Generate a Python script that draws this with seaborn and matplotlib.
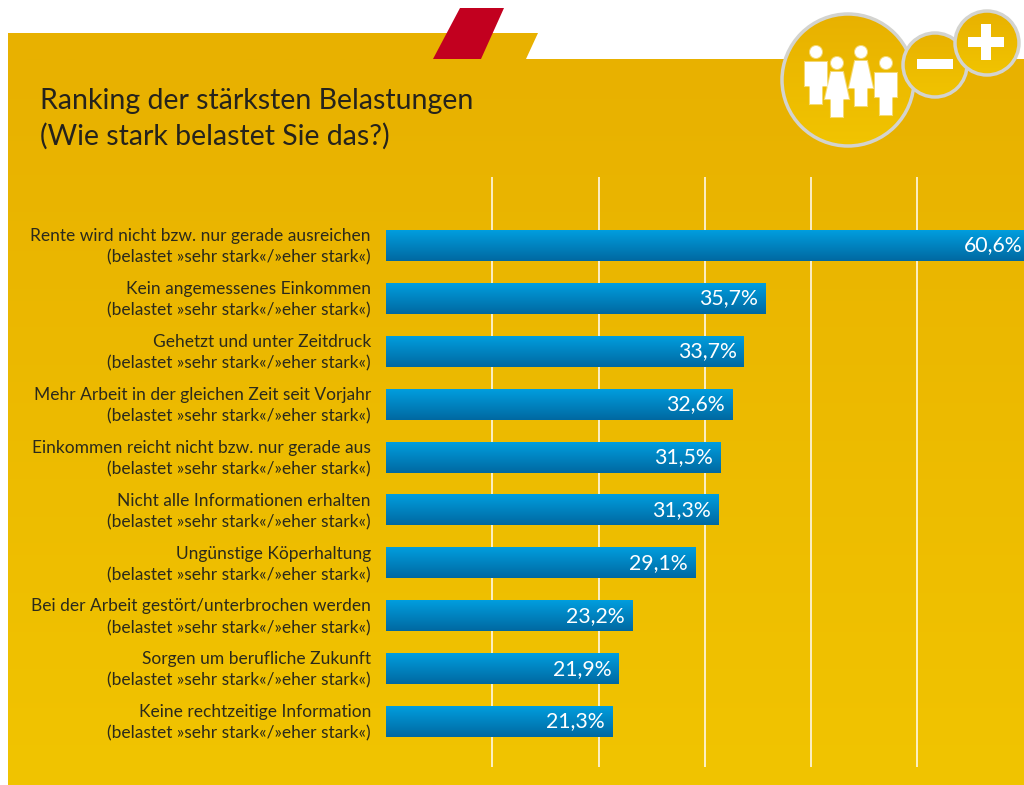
#!/usr/bin/env python3
# -*- coding: utf-8 -*-
import numpy as np
import pandas as pd
import matplotlib
matplotlib.use('Agg')
import matplotlib.pyplot as plt
from matplotlib.colors import LinearSegmentedColormap
from matplotlib.patches import Circle, Polygon, Rectangle
from matplotlib.transforms import ScaledTranslation
import seaborn as sns

titel = 'Ranking der stärksten Belastungen\n(Wie stark belastet Sie das?)'
zusatz = '(belastet »sehr stark«/»eher stark«)'
kategorien = [
    'Rente wird nicht bzw. nur gerade ausreichen',
    'Kein angemessenes Einkommen',
    'Gehetzt und unter Zeitdruck',
    'Mehr Arbeit in der gleichen Zeit seit Vorjahr',
    'Einkommen reicht nicht bzw. nur gerade aus',
    'Nicht alle Informationen erhalten',
    'Ungünstige Köperhaltung',
    'Bei der Arbeit gestört/unterbrochen werden',
    'Sorgen um berufliche Zukunft',
    'Keine rechtzeitige Information',
]
werte = [60.6, 35.7, 33.7, 32.6, 31.5, 31.3, 29.1, 23.2, 21.9, 21.3]
gitter = [10, 20, 30, 40, 50]

sns.set_theme(style='white')
plt.rcParams['font.family'] = ['Lato', 'DejaVu Sans']

W, H = 1024, 785
gold = LinearSegmentedColormap.from_list('gold', ['#e8b100', '#f1c400'])
blau = LinearSegmentedColormap.from_list('blau', ['#009ede', '#0068a1'])
verlauf = np.linspace(0, 1, 256).reshape(-1, 1)

fig = plt.figure(figsize=(W / 100, H / 100), dpi=100, facecolor='white')

# Hintergrund in Pixelkoordinaten
bg = fig.add_axes([0, 0, 1, 1])
bg.set_xlim(0, W)
bg.set_ylim(H, 0)
bg.axis('off')
bg.add_patch(Polygon([(8, 33), (538, 33), (526, 59), (8, 59)], fc='#e8b100', ec='none'))
bg.imshow(verlauf, cmap=gold, extent=(8, W, H, 59), aspect='auto', zorder=1)
bg.add_patch(Polygon([(460, 8), (504, 8), (481, 59), (433, 59)], fc='#c2001f', ec='none', zorder=2))
bg.text(40, 119, titel, fontsize=20.5, color='#25231c', va='center', ha='left',
        linespacing=1.42, zorder=5)


def kreis(x, y, r, z):
    im = bg.imshow(verlauf, cmap=gold, extent=(x - r, x + r, y + r, y - r), aspect='auto', zorder=z)
    c = Circle((x, y), r, fc='none', ec='#d3d3cf', lw=2.5, zorder=z + 0.1)
    bg.add_patch(c)
    im.set_clip_path(c)


kreis(848, 80, 66, 3)
kreis(935, 65, 32, 4)
kreis(987, 43, 32, 5)
bg.set_xlim(0, W)
bg.set_ylim(H, 0)

weiss = dict(fc='white', ec='none', zorder=6)
weich = dict(fc='white', ec=(1, 1, 1, 0.45), lw=1.5, zorder=6)
bg.add_patch(Rectangle((917, 59), 36, 10, **weiss))
bg.add_patch(Rectangle((968, 37), 36, 10, **weiss))
bg.add_patch(Rectangle((981, 24), 10, 36, **weiss))
# vier Figuren im Icon
for kx, ky in [(816, 52), (886, 63)]:
    bg.add_patch(Circle((kx, ky), 6, **weich))
    bg.add_patch(Rectangle((kx - 11, ky + 10), 22, 24, **weich))
    bg.add_patch(Rectangle((kx - 6, ky + 30), 12, 22, **weich))
for kx, ky in [(837, 63), (861, 52)]:
    bg.add_patch(Circle((kx, ky), 6, **weich))
    bg.add_patch(Polygon([(kx - 6, ky + 9), (kx + 6, ky + 9), (kx + 12, ky + 36), (kx - 12, ky + 36)], **weich))
    bg.add_patch(Rectangle((kx - 6, ky + 34), 12, 20, **weich))

# Diagramm
links = 386.2 / W
unten = 1 - 767 / H
hoehe = (767 - 177) / H
ax = fig.add_axes([links, unten, 1 - links, hoehe], facecolor='none')

df = pd.DataFrame({'kategorie': kategorien, 'wert': werte})
sns.barplot(data=df, x='wert', y='kategorie', orient='h', width=0.586, ax=ax, color='#0083c2')

for balken in ax.patches:
    balken.set_visible(False)
    x0, y0 = balken.get_x(), balken.get_y()
    ax.imshow(verlauf, cmap=blau, aspect='auto', zorder=3,
              extent=(x0, x0 + balken.get_width(), y0 + balken.get_height(), y0))

for i, wert in enumerate(werte):
    ax.annotate(f'{wert:.1f}%'.replace('.', ','), (wert, i), xytext=(-5.5, 0),
                textcoords='offset points', ha='right', va='center', color='white',
                fontsize=15.3, zorder=4, annotation_clip=False)

ax.set_xlim(0, (W - 386.2) / 10.62)
ax.set_ylim(9.86, -1.295)
ax.set_xticks(gitter)
ax.set_xticklabels([])
ax.set_xlabel('')
ax.set_ylabel('')
ax.set_yticks(range(len(kategorien)))
ax.set_yticklabels([f'{k}\n{zusatz}' for k in kategorien], fontsize=12.5, color='#2b2a1c',
                   ha='right', linespacing=1.42)
ax.tick_params(axis='y', length=0, pad=11)
ax.tick_params(axis='x', length=0)
versatz = ScaledTranslation(0, 2 / 72, fig.dpi_scale_trans)
for lbl in ax.get_yticklabels():
    lbl.set_transform(lbl.get_transform() + versatz)
ax.grid(axis='x', color='#fff8e6', lw=1.2)
ax.set_axisbelow(True)
sns.despine(ax=ax, left=True, bottom=True)

fig.savefig('out.png', dpi=100, facecolor='white')
